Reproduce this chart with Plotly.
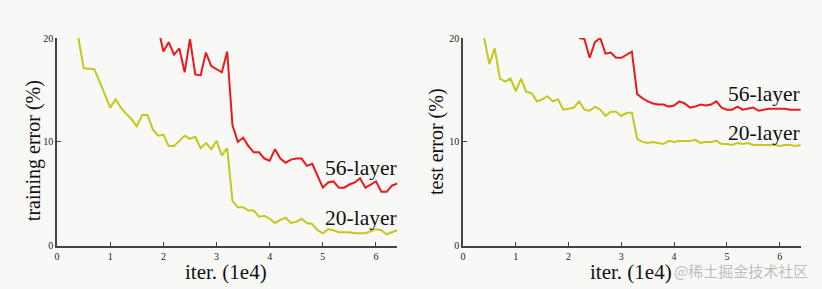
import plotly.graph_objects as go

# ---- data (iterations in 1e4, error in %) ----
x_train20 = [0.4,0.5,0.6,0.7,0.8,0.9,1.0,1.1,1.2,1.3,1.4,1.5,1.6,1.7,1.8,1.9,2.0,2.1,2.2,2.3,2.4,2.5,2.6,2.7,2.8,2.9,3.0,3.1,3.2,3.3,3.4,3.5,3.6,3.7,3.8,3.9,4.0,4.1,4.2,4.3,4.4,4.5,4.6,4.7,4.8,4.9,5.0,5.1,5.2,5.3,5.4,5.5,5.6,5.7,5.8,5.9,6.0,6.1,6.2,6.3,6.4]
y_train20 = [20.0,17.1,17.05,17.0,15.8,14.6,13.3,14.1,13.3,12.7,12.2,11.5,12.6,12.6,11.2,10.6,10.7,9.6,9.6,10.1,10.6,10.3,10.5,9.4,9.9,9.3,10.1,8.7,9.4,4.3,3.7,3.7,3.4,3.4,2.8,2.9,2.6,2.2,2.5,2.7,2.2,2.3,2.6,2.2,2.1,1.5,1.2,1.6,1.5,1.3,1.3,1.3,1.2,1.2,1.2,1.4,1.6,1.5,1.1,1.3,1.5]

x_train56 = [1.9,2.0,2.1,2.2,2.3,2.4,2.5,2.6,2.7,2.8,2.9,3.0,3.1,3.2,3.3,3.4,3.5,3.6,3.7,3.8,3.9,4.0,4.1,4.2,4.3,4.4,4.5,4.6,4.7,4.8,4.9,5.0,5.1,5.2,5.3,5.4,5.5,5.6,5.7,5.8,5.9,6.0,6.1,6.2,6.3,6.4]
y_train56 = [21.0,18.7,19.6,18.4,19.0,16.7,19.9,16.5,16.4,18.6,17.3,17.0,16.7,18.7,11.6,10.0,10.4,9.6,9.0,9.0,8.4,8.2,9.3,8.4,8.0,8.3,8.4,8.4,7.7,7.9,6.7,5.6,6.1,6.2,5.6,5.6,5.9,6.1,6.5,5.6,5.9,6.2,5.2,5.2,5.8,6.0]

x_test20 = [0.4,0.5,0.6,0.7,0.8,0.9,1.0,1.1,1.2,1.3,1.4,1.5,1.6,1.7,1.8,1.9,2.0,2.1,2.2,2.3,2.4,2.5,2.6,2.7,2.8,2.9,3.0,3.1,3.2,3.3,3.4,3.5,3.6,3.7,3.8,3.9,4.0,4.1,4.2,4.3,4.4,4.5,4.6,4.7,4.8,4.9,5.0,5.1,5.2,5.3,5.4,5.5,5.6,5.7,5.8,5.9,6.0,6.1,6.2,6.3,6.4]
y_test20 = [20.0,17.5,19.0,16.1,15.8,16.1,14.9,16.1,14.8,14.7,13.9,14.1,14.4,13.9,14.1,13.1,13.2,13.3,13.9,13.1,13.0,13.4,13.1,12.5,12.9,12.9,12.5,12.8,12.8,10.3,10.0,9.9,10.0,9.9,9.8,10.1,10.0,10.1,10.1,10.1,10.2,9.9,10.0,10.0,10.1,9.8,9.8,9.7,9.9,9.8,9.9,9.7,9.7,9.7,9.7,9.7,9.6,9.7,9.7,9.6,9.7]

x_test56 = [2.2,2.3,2.4,2.5,2.6,2.7,2.8,2.9,3.0,3.1,3.2,3.3,3.4,3.5,3.6,3.7,3.8,3.9,4.0,4.1,4.2,4.3,4.4,4.5,4.6,4.7,4.8,4.9,5.0,5.1,5.2,5.3,5.4,5.5,5.6,5.7,5.8,5.9,6.0,6.1,6.2,6.3,6.4]
y_test56 = [20.0,19.9,18.1,19.6,20.0,18.5,18.6,18.1,18.1,18.4,18.7,14.6,14.2,13.9,13.7,13.6,13.6,13.4,13.5,13.9,13.7,13.3,13.4,13.6,13.5,13.6,13.9,13.3,13.1,13.1,13.4,13.1,13.2,13.3,13.0,13.1,13.2,13.2,13.2,13.2,13.1,13.1,13.1]

x_ticks = [0, 1, 2, 3, 4, 5, 6]
y_ticks = [0, 10, 20]

RED = "#ea1a1c"
YEL = "#c3c81e"
W, H = 822, 289
SERIF = "Liberation Serif"

fig = go.Figure()
fig.add_trace(go.Scatter(x=x_train20, y=y_train20, mode="lines", line=dict(color=YEL, width=2), xaxis="x", yaxis="y"))
fig.add_trace(go.Scatter(x=x_train56, y=y_train56, mode="lines", line=dict(color=RED, width=2), xaxis="x", yaxis="y"))
fig.add_trace(go.Scatter(x=x_test20, y=y_test20, mode="lines", line=dict(color=YEL, width=2), xaxis="x2", yaxis="y2"))
fig.add_trace(go.Scatter(x=x_test56, y=y_test56, mode="lines", line=dict(color=RED, width=2), xaxis="x2", yaxis="y2"))

def px_x(p):
    return p / W

def px_y(p):
    return 1 - p / H

ydom = [px_y(249.3), px_y(33.3)]
axis_common = dict(showgrid=False, zeroline=False, showline=True, linecolor="#444", linewidth=1.5,
                   ticks="inside", ticklen=4, tickcolor="#444", tickwidth=1,
                   tickfont=dict(family=SERIF, size=10, color="#222"))

fig.update_layout(
    width=W, height=H, margin=dict(l=0, r=0, t=0, b=0),
    paper_bgcolor="#f8f8f6", plot_bgcolor="#f8f8f6",
    showlegend=False,
    xaxis=dict(domain=[px_x(54.3), px_x(395.7)], range=[0, 6.4], tickvals=x_ticks, anchor="y", **axis_common),
    yaxis=dict(domain=ydom, range=[0, 20], tickvals=y_ticks, anchor="x", **axis_common),
    xaxis2=dict(domain=[px_x(461.7), px_x(800.7)], range=[0, 6.4], tickvals=x_ticks, anchor="y2", **axis_common),
    yaxis2=dict(domain=ydom, range=[0, 20], tickvals=y_ticks, anchor="x2", **axis_common),
)

ann = []
# axis titles
ann.append(dict(text="iter. (1e4)", x=px_x(224), y=px_y(277), xref="paper", yref="paper", showarrow=False,
                font=dict(family=SERIF, size=21, color="#111"), xanchor="center", yanchor="middle"))
ann.append(dict(text="iter. (1e4)", x=px_x(630), y=px_y(277), xref="paper", yref="paper", showarrow=False,
                font=dict(family=SERIF, size=21, color="#111"), xanchor="center", yanchor="middle"))
ann.append(dict(text="training error (%)", x=px_x(30), y=px_y(150), xref="paper", yref="paper", showarrow=False,
                textangle=-90, font=dict(family=SERIF, size=20, color="#111"), xanchor="center", yanchor="middle"))
ann.append(dict(text="test error (%)", x=px_x(435), y=px_y(141), xref="paper", yref="paper", showarrow=False,
                textangle=-90, font=dict(family=SERIF, size=20, color="#111"), xanchor="center", yanchor="middle"))
# series labels
for txt, xr, yr, xv, yv in [("56-layer", "x", "y", 5.72, 7.5), ("20-layer", "x", "y", 5.72, 2.7),
                            ("56-layer", "x2", "y2", 5.7, 14.6), ("20-layer", "x2", "y2", 5.7, 10.9)]:
    ann.append(dict(text=txt, x=xv, y=yv, xref=xr, yref=yr, showarrow=False,
                    font=dict(family=SERIF, size=21.5, color="#111"), xanchor="center", yanchor="middle"))
# watermark
ann.append(dict(text="@稀土掘金技术社区", x=px_x(810), y=px_y(275), xref="paper", yref="paper", showarrow=False,
                font=dict(family="Noto Sans CJK SC", size=15, color="rgba(170,170,170,0.75)"),
                xanchor="right", yanchor="middle"))
fig.update_layout(annotations=ann)

fig.write_html("out.html")
